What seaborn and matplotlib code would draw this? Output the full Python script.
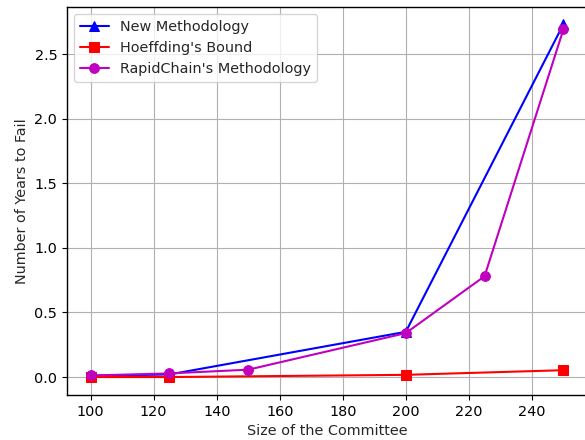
import matplotlib
matplotlib.use("Agg")
import matplotlib.pyplot as plt
import seaborn as sns
import pandas as pd

new_x = [100, 125, 200, 250]
new_y = [0.01, 0.02, 0.35, 2.73]
hoef_x = [100, 125, 200, 250]
hoef_y = [0.0, 0.0, 0.017, 0.053]
rapid_x = [100, 125, 150, 200, 225, 250]
rapid_y = [0.012, 0.028, 0.057, 0.34, 0.78, 2.69]

sns.set_style("ticks")
plt.rcParams['font.family'] = ['DejaVu Sans']

fig = plt.figure(figsize=(5.85, 4.4), dpi=100)
ax = fig.add_axes([67/585, 45/440, 520/585, 388/440])

sns.lineplot(x=new_x, y=new_y, ax=ax, color='blue', marker='^', markersize=7,
             markeredgecolor='blue', label='New Methodology')
sns.lineplot(x=hoef_x, y=hoef_y, ax=ax, color='red', marker='s', markersize=7,
             markeredgecolor='red', label="Hoeffding's Bound")
sns.lineplot(x=rapid_x, y=rapid_y, ax=ax, color='m', marker='o', markersize=7,
             markeredgecolor='m', label="RapidChain's Methodology")

ax.set_xlim(92.5, 257.5)
ax.set_ylim(-0.139, 2.864)
ax.set_xticks([100, 120, 140, 160, 180, 200, 220, 240])
ax.set_yticks([0.0, 0.5, 1.0, 1.5, 2.0, 2.5])
ax.grid(True, color='#b0b0b0', linewidth=0.8)
for s in ax.spines.values():
    s.set_color('black')
    s.set_linewidth(1.0)
ax.spines['right'].set_visible(False)
ax.tick_params(colors='black', labelsize=10.4, direction='out', length=3.5)
ax.set_xlabel('Size of the Committee', fontsize=10.4)
ax.set_ylabel('Number of Years to Fail', fontsize=10.4)
ax.legend(loc='upper left', fontsize=10.4)

fig.savefig('out.png', dpi=100)
